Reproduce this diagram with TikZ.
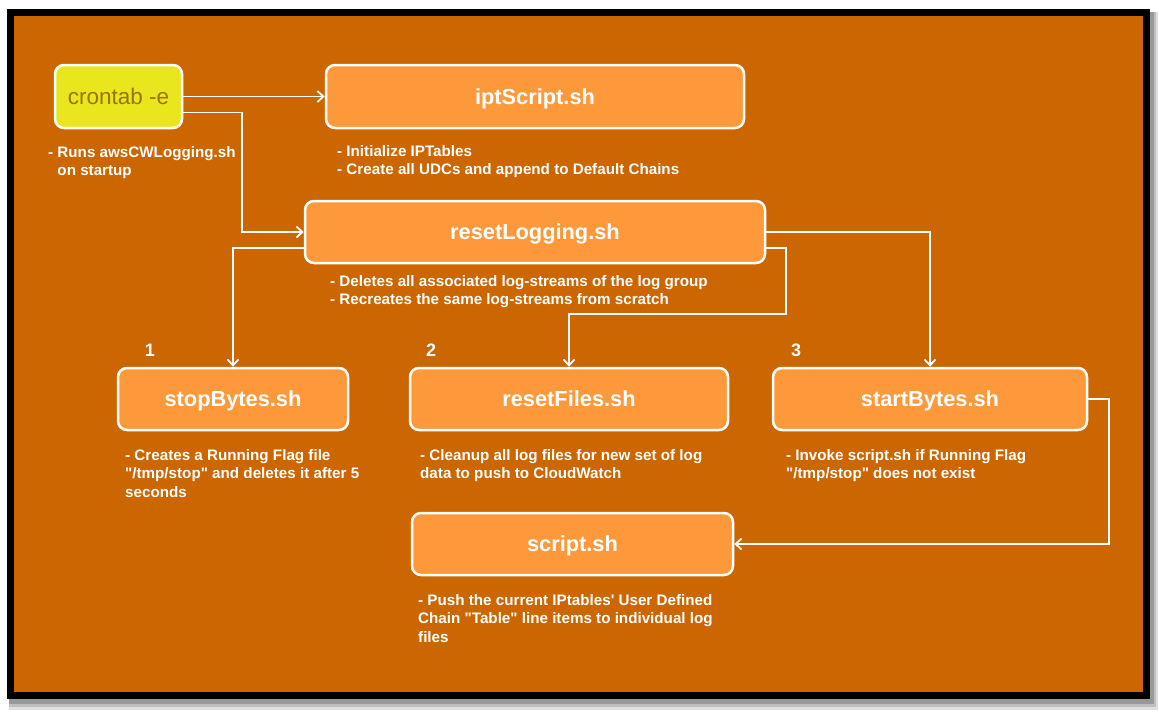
\documentclass[tikz,border=0pt]{standalone}
\usepackage{fontspec}
\setmainfont{Liberation Sans}[Ligatures=TeXOff]
\usetikzlibrary{arrows.meta,calc}
\definecolor{bgor}{RGB}{204,102,0}
\definecolor{boxor}{RGB}{253,153,58}
\definecolor{cyel}{RGB}{234,230,30}
\definecolor{ctxt}{RGB}{150,118,0}
\begin{document}
\begin{tikzpicture}[x=1pt,y=-1pt,
  proc/.style={draw=white, line width=2.5pt, rounded corners=9pt, fill=boxor, text=white,
    font=\fontsize{21.8}{24}\selectfont\bfseries, inner sep=0pt,
    text height=15.6pt, text depth=0pt},
  desc/.style={anchor=north west, align=left, text=white,
    font=\fontsize{15.2}{18.5}\selectfont\bfseries, inner sep=0pt},
  conn/.style={draw=white, line width=1.8pt,
    -{Straight Barb[length=6pt,width=11pt,line width=1.8pt]}},
  num/.style={text=white, font=\fontsize{18}{20}\selectfont\bfseries, inner sep=0pt}]
\useasboundingbox (0,0) rectangle (1159,716);
\fill[white] (0,0) rectangle (1159,716);
% shadow
\fill[black!12] (9,12) rectangle (1158,710);
\fill[black!25] (9,12) rectangle (1156,707);
\fill[black!40] (9,12) rectangle (1154,704);
% frame
\fill[black] (7,9) rectangle (1150,699);
\fill[bgor] (14,16) rectangle (1143,692);

% nodes
\node[proc, fill=cyel, text=ctxt, font=\fontsize{22.5}{24}\selectfont, text height=16pt,
  minimum width=127pt, minimum height=63pt] (crontab) at (118.5,96.5) {crontab -e};
\node[proc, minimum width=418pt, minimum height=63pt] (ipt) at (535,96.5) {iptScript.sh};
\node[proc, minimum width=460pt, minimum height=62pt] (reset) at (535,232) {resetLogging.sh};
\node[proc, minimum width=230pt, minimum height=62pt] (stop) at (233,399) {stopBytes.sh};
\node[proc, minimum width=318pt, minimum height=62pt] (files) at (569,399) {resetFiles.sh};
\node[proc, minimum width=314pt, minimum height=62pt] (start) at (930,399) {startBytes.sh};
\node[proc, minimum width=321pt, minimum height=62pt] (script) at (572.5,544) {script.sh};

% numbers
\node[num] (n1) at (150,350) {1};
\node[num] (n2) at (431,350) {2};
\node[num] (n3) at (796,350) {3};

% descriptions
\node[desc] (dcron) at (48,146) {- Runs awsCWLogging.sh\\\phantom{- }on startup};
\node[desc] (dipt) at (337,145) {- Initialize IPTables\\- Create all UDCs and append to Default Chains};
\node[desc] (dreset) at (330,275) {- Deletes all associated log-streams of the log group\\- Recreates the same log-streams from scratch};
\node[desc] (dstop) at (125,449) {- Creates a Running Flag file\\"/tmp/stop" and deletes it after 5\\seconds};
\node[desc] (dfiles) at (420,449) {- Cleanup all log files for new set of log\\data to push to CloudWatch};
\node[desc] (dstart) at (786,449) {- Invoke script.sh if Running Flag\\"/tmp/stop" does not exist};
\node[desc] (dscript) at (418,594) {- Push the current IPtables' User Defined\\Chain "Table" line items to individual log\\files};

% connectors
\draw[conn] (crontab.east) -- (ipt.west);
\draw[conn] ($(crontab.east)+(0,16)$) -| ($(reset.west)+(-62,0)$) -- (reset.west);
\draw[conn] ($(reset.west)+(0,16)$) -| (stop.north);
\draw[conn] ($(reset.east)+(0,16)$) -- ++(20,0) |- ($(files.north)+(0,-53)$) -- (files.north);
\draw[conn] (reset.east) -| (start.north);
\draw[conn] (start.east) -- ++(21,0) |- (script.east);
\end{tikzpicture}
\end{document}
